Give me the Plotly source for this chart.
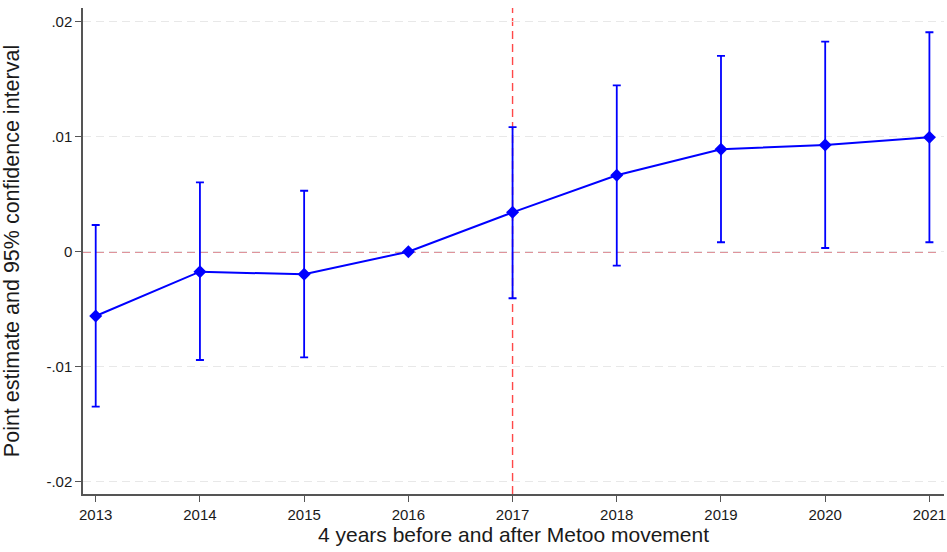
import plotly.graph_objects as go

years = [2013, 2014, 2015, 2016, 2017, 2018, 2019, 2020, 2021]
estimate = [-0.00559, -0.00174, -0.00197, 0.0, 0.00342, 0.00664, 0.00890, 0.00928, 0.00995]
ci_upper = [0.00232, 0.00603, 0.00530, 0.0, 0.01084, 0.01447, 0.01702, 0.01826, 0.01908]
ci_lower = [-0.01348, -0.00942, -0.00919, 0.0, -0.00405, -0.00122, 0.00082, 0.00032, 0.00082]
y_ticks = [-0.02, -0.01, 0, 0.01, 0.02]
y_ticklabels = ["-.02", "-.01", "0", ".01", ".02"]
event_year = 2017

err_plus = [u - e for u, e in zip(ci_upper, estimate)]
err_minus = [e - l for e, l in zip(estimate, ci_lower)]

fig = go.Figure()
fig.add_trace(go.Scatter(
    x=years, y=estimate, mode="lines+markers",
    line=dict(color="#0000ff", width=2),
    marker=dict(symbol="diamond", size=10, color="#0000ff"),
    error_y=dict(type="data", symmetric=False, array=err_plus, arrayminus=err_minus,
                 color="#0000ff", thickness=1.8, width=4),
    showlegend=False,
))

fig.add_shape(type="line", xref="paper", yref="y", x0=0, x1=0.995, y0=0, y1=0,
              line=dict(color="#c02838", width=1.5, dash="8px,5px"), layer="below")
fig.add_shape(type="line", xref="x", yref="paper", x0=event_year, x1=event_year, y0=0, y1=1,
              line=dict(color="#ff4848", width=1.4, dash="8px,5px"), layer="below")

fig.update_layout(
    width=947, height=552,
    margin=dict(l=83, r=3, t=8, b=58),
    paper_bgcolor="white", plot_bgcolor="white",
    font=dict(family="Liberation Sans, Arial, sans-serif", color="#1a1a1a"),
)
fig.update_xaxes(
    range=[2012.878, 2021.14], tickvals=years, ticktext=[str(y) for y in years],
    automargin=False, ticklabeloverflow="allow",
    showgrid=False, zeroline=False, showline=True, linecolor="#555555", linewidth=1.5,
    ticks="outside", ticklen=6, tickcolor="#555555", tickfont=dict(size=15),
    title=dict(text="4 years before and after Metoo movement", font=dict(size=21), standoff=2),
)
fig.update_yaxes(
    range=[-0.02107, 0.02119], tickvals=y_ticks, ticktext=y_ticklabels,
    automargin=False,
    showgrid=True, gridcolor="#e8e8e8", griddash="8px,5px", gridwidth=1.3,
    zeroline=False, showline=True, linecolor="#555555", linewidth=1.5,
    ticks="outside", ticklen=6, tickcolor="#555555", tickfont=dict(size=15),
    title=dict(text="Point estimate and 95% confidence interval", font=dict(size=21.5), standoff=22),
)

fig.write_html("out.html", config={"displayModeBar": False},
               post_script="document.body.style.margin='0';")
